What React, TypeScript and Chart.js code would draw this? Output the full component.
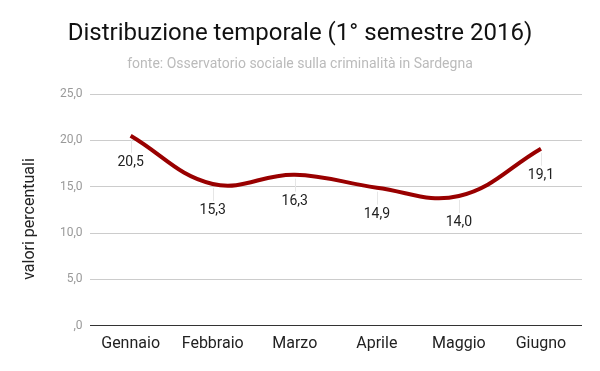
import React, { useEffect, useRef } from "react";
import { Chart, registerables } from "chart.js";

Chart.register(...registerables);

const categories = ["Gennaio", "Febbraio", "Marzo", "Aprile", "Maggio", "Giugno"];
const values = [20.5, 15.3, 16.3, 14.9, 14.0, 19.1];
const valueLabels = ["20,5", "15,3", "16,3", "14,9", "14,0", "19,1"];
const yAxisTitle = "valori percentuali";
const titleText = "Distribuzione temporale (1° semestre 2016)";
const subtitleText = "fonte: Osservatorio sociale sulla criminalità in Sardegna";

const FONT = "Roboto";

const fmtTick = (v: number) => (v === 0 ? ",0" : v.toFixed(1).replace(".", ","));

const labelPlugin = {
  id: "pointLabels",
  afterDraw(chart: any) {
    const ctx = chart.ctx;
    const meta = chart.getDatasetMeta(0);
    ctx.save();
    meta.data.forEach((pt: any, i: number) => {
      const x = pt.x;
      const y = pt.y;
      ctx.strokeStyle = "#e6e6e6";
      ctx.lineWidth = 1;
      ctx.beginPath();
      ctx.moveTo(Math.round(x) + 0.5, y + 4);
      ctx.lineTo(Math.round(x) + 0.5, y + 17);
      ctx.stroke();
      ctx.fillStyle = "#222";
      ctx.font = `14px ${FONT}`;
      ctx.textAlign = "center";
      ctx.textBaseline = "middle";
      ctx.fillText(valueLabels[i], x, y + 27);
    });
    // titles
    ctx.textAlign = "center";
    ctx.textBaseline = "middle";
    ctx.fillStyle = "#111";
    ctx.font = `24px ${FONT}`;
    ctx.fillText(titleText, 300, 34);
    ctx.fillStyle = "#bbbbbb";
    ctx.font = `14px ${FONT}`;
    ctx.fillText(subtitleText, 300, 64);
    // y axis title
    ctx.translate(30, 219);
    ctx.rotate(-Math.PI / 2);
    ctx.fillStyle = "#222";
    ctx.font = `16px ${FONT}`;
    ctx.fillText(yAxisTitle, 0, 0);
    ctx.restore();
  },
};

export default function App() {
  const ref = useRef<HTMLCanvasElement>(null);
  useEffect(() => {
    if (!ref.current) return;
    const chart = new Chart(ref.current, {
      type: "line",
      data: {
        labels: categories,
        datasets: [
          {
            data: values,
            borderColor: "#990000",
            borderWidth: 4,
            tension: 0.4,
            pointRadius: 0,
            fill: false,
          },
        ],
      },
      options: {
        animation: false,
        responsive: false,
        maintainAspectRatio: false,
        layout: { padding: { left: 53, right: 18, bottom: 8, top: 94 } },
        plugins: {
          legend: { display: false },
          tooltip: { enabled: false },
          title: { display: false },
        },
        scales: {
          x: {
            offset: true,
            grid: { display: false, drawTicks: false },
            border: { display: false },
            ticks: {
              color: "#222",
              font: { family: FONT, size: 16 },
              padding: 9,
            },
          },
          y: {
            min: 0,
            max: 25,
            ticks: {
              stepSize: 5,
              color: "#999",
              font: { family: FONT, size: 12 },
              padding: 7,
              callback: (v: any) => fmtTick(Number(v)),
            },
            grid: {
              drawTicks: false,
              color: (c: any) => (c.tick && c.tick.value === 0 ? "#333" : "#cccccc"),
              lineWidth: 1,
            },
            border: { display: false },
          },
        },
      },
      plugins: [labelPlugin],
    });
    return () => chart.destroy();
  }, []);
  return (
    <div style={{ position: "fixed", left: 0, top: 0, width: 600, height: 371, background: "#fff" }}>
      <canvas ref={ref} width={600} height={371} style={{ width: 600, height: 371 }} />
    </div>
  );
}
